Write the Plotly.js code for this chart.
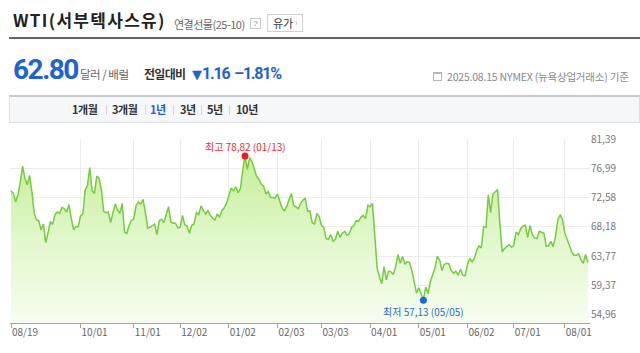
<!DOCTYPE html>
<html><head><meta charset="utf-8">
<script src="https://cdn.plot.ly/plotly-3.0.1.min.js"></script>
<style>
body{margin:0;width:640px;height:353px;overflow:hidden;background:#fff;font-family:"Noto Sans CJK KR","Noto Sans",sans-serif;position:relative}
.abs{position:absolute;white-space:nowrap}
#chart{position:absolute;left:0;top:123px;width:640px;height:230px}
.tab{position:absolute;top:0;line-height:25px;font-size:11px;font-weight:700;color:#333;letter-spacing:-0.4px}
.sep{position:absolute;top:8px;width:1px;height:10px;background:#d4d6da}
</style></head><body>
<div class="abs" style="left:13px;top:8px;font-size:17px;font-weight:700;color:#222;line-height:24px;letter-spacing:1.3px">WTI(서부텍사스유)</div>
<div class="abs" style="left:174px;top:17px;font-size:11px;color:#666;line-height:14px;letter-spacing:-0.5px">연결선물(25-10)</div>
<div class="abs" style="left:250px;top:18px;width:9px;height:9px;border:1px solid #c6c6c6;font-size:8px;line-height:9px;text-align:center;color:#888;font-family:'Liberation Sans'">?</div>
<div class="abs" style="left:267px;top:14px;width:34px;height:16px;border:1px solid #cfcfcf;font-size:11px;line-height:16px;color:#333"><span style="position:absolute;left:5px">유가</span><span style="position:absolute;left:27px;color:#aaa;font-size:9px">›</span></div>
<div class="abs" style="left:9px;top:37px;width:631px;height:2px;background:#5f636a"></div>

<div class="abs" style="left:13px;top:55px;font-family:Roboto,'Liberation Sans';font-size:28px;font-weight:700;color:#1e63d4;line-height:30px;letter-spacing:-1.5px">62.80</div>
<div class="abs" style="left:80px;top:66px;font-size:11.5px;color:#666;line-height:16px;letter-spacing:-0.5px">달러 / 배럴</div>
<div class="abs" style="left:144px;top:66px;font-size:12px;font-weight:700;color:#333;line-height:16px;letter-spacing:-0.7px">전일대비</div>
<div class="abs" style="left:192px;top:64px;font-family:Roboto,'Liberation Sans';font-size:16px;font-weight:700;color:#1e63d4;line-height:20px;letter-spacing:-1.2px"><span style="font-size:13px;font-family:'DejaVu Sans';letter-spacing:0">▼</span>1.16</div>
<div class="abs" style="left:234px;top:64px;font-family:Roboto,'Liberation Sans';font-size:16px;font-weight:700;color:#1e63d4;line-height:20px;letter-spacing:-1.2px">–1.81%</div>
<div class="abs" style="left:433px;top:72px;width:9px;height:9px;border:1px solid #b5b5b5;border-top-width:2px;box-sizing:border-box"></div>
<div class="abs" style="left:447px;top:70px;font-size:10.5px;color:#888;line-height:14px;letter-spacing:-0.2px">2025.08.15 NYMEX (뉴욕상업거래소) 기준</div>

<div class="abs" style="left:9px;top:95px;width:629px;height:25px;background:#f6f7f9;border:1px solid #dcdee2;border-top:2px solid #c6c9ce">
  <span class="tab" style="left:62px">1개월</span><span class="sep" style="left:96px"></span>
  <span class="tab" style="left:102px">3개월</span><span class="sep" style="left:135px"></span>
  <span class="tab" style="left:140px;color:#2a5bd7">1년</span><span class="sep" style="left:163px"></span>
  <span class="tab" style="left:170px">3년</span><span class="sep" style="left:191px"></span>
  <span class="tab" style="left:197px">5년</span><span class="sep" style="left:219px"></span>
  <span class="tab" style="left:226px">10년</span>
</div>

<div id="chart"></div>
<script>
// WTI daily closes (trading days), 2024-08-19 .. 2025-08-15
const aug2024 = [73.6, 73.2, 71.9, 73.0, 74.8, 77.3, 75.5, 74.5, 75.9, 73.5];
const sep2024 = [70.3, 69.2, 69.1, 67.7, 68.6, 65.8, 67.3, 68.9, 68.6, 70.0, 70.4, 70.2, 71.1, 70.9, 70.4, 71.5, 69.5, 67.7, 68.2, 68.2];
const oct2024 = [69.8, 70.1, 73.7, 74.4, 77.1, 73.6, 73.2, 75.8, 75.5, 73.8, 70.5, 70.3, 70.4, 68.8, 70.3, 71.6, 70.7, 70.2, 71.7, 67.4, 67.2, 68.4, 69.1];
const nov2024 = [69.4, 71.4, 71.9, 71.6, 72.3, 70.3, 68.0, 68.1, 68.4, 68.6, 67.0, 69.1, 69.3, 68.8, 70.0, 71.2, 68.9, 68.7, 68.7, 68.0];
const dec2024 = [68.1, 69.9, 68.5, 68.3, 67.2, 68.4, 68.6, 70.3, 70.0, 71.3, 70.7, 70.1, 70.6, 69.9, 69.5, 69.2, 70.1, 69.6, 70.6, 71.0, 71.7];
const jan2025 = [73.0, 74.0, 73.6, 74.2, 73.3, 73.9, 76.6, 78.82, 76.8, 78.6, 78.0, 77.0, 75.8, 75.3, 74.6, 74.3, 73.1, 73.5, 72.6, 72.6, 72.5];
const feb2025 = [73.1, 72.2, 71.0, 70.6, 71.2, 72.3, 73.2, 71.4, 71.2, 70.9, 71.7, 72.2, 72.5, 70.5, 70.6, 68.8, 68.6, 70.2, 69.7];
const mar2025 = [68.4, 68.1, 66.4, 66.3, 67.0, 66.0, 66.3, 67.5, 66.6, 67.2, 67.5, 66.9, 67.1, 68.1, 68.3, 69.1, 69.0, 69.6, 69.9, 69.4, 71.4];
const apr2025 = [71.2, 71.7, 67.0, 62.0, 60.7, 59.6, 62.2, 60.2, 61.5, 61.4, 61.0, 62.2, 64.0, 62.7, 63.7, 62.6, 62.9, 62.8, 61.6, 59.9, 58.2];
const may2025 = [59.0, 58.0, 57.13, 59.1, 58.1, 59.9, 61.0, 62.0, 63.7, 63.2, 61.6, 62.5, 62.7, 62.6, 61.6, 61.2, 61.5, 60.9, 61.8, 60.9, 60.8];
const jun2025 = [62.5, 63.4, 62.9, 63.4, 64.6, 65.3, 65.0, 68.2, 68.1, 73.0, 70.3, 73.1, 73.5, 73.8, 68.7, 64.4, 64.9, 65.2, 65.5, 65.1];
const jul2025 = [65.4, 67.4, 67.0, 67.9, 68.3, 68.4, 66.6, 68.4, 67.0, 66.5, 66.4, 67.5, 67.3, 67.2, 65.3, 65.3, 66.0, 65.2, 66.7, 69.2, 70.0, 69.3];
const aug2025 = [67.3, 66.3, 65.2, 64.4, 63.9, 63.9, 64.1, 63.2, 62.7, 64.0, 62.8];

// x-axis labels and the trading-day index at which each labelled date falls
const tickLabels = ['08/19', '10/01', '11/01', '12/02', '01/02', '02/03', '03/03', '04/01', '05/01', '06/02', '07/01', '08/01'];
const tickIndex  = [0, 30, 53, 73, 94, 115, 134, 155, 176, 197, 217, 239];
// y-axis ticks
const yTicks = [54.96, 59.37, 63.77, 68.18, 72.58, 76.99, 81.39];
const highDate = '01/13';
const lowDate = '05/05';

const values = [].concat(aug2024, sep2024, oct2024, nov2024, dec2024, jan2025, feb2025, mar2025, apr2025, may2025, jun2025, jul2025, aug2025);
const xs = values.map((v, i) => i);
const hiVal = Math.max(...values), loVal = Math.min(...values);
const hiIdx = values.indexOf(hiVal), loIdx = values.indexOf(loVal);
const fmt = v => v.toFixed(2).replace('.', ',');

const traces = [
  {x: xs, y: values, type: 'scatter', mode: 'lines', line: {color: '#74cc3e', width: 1.5, shape: 'linear'},
   fill: 'tozeroy',
   fillgradient: {type: 'vertical', start: 53.7, stop: 79.5,
     colorscale: [[0, 'rgba(246,253,240,1)'], [0.5, 'rgba(224,247,202,1)'], [1, 'rgba(196,238,150,1)']]},
   hoverinfo: 'skip'},
  {x: [hiIdx], y: [hiVal], type: 'scatter', mode: 'markers', marker: {color: '#f21a22', size: 7}},
  {x: [loIdx], y: [loVal], type: 'scatter', mode: 'markers', marker: {color: '#1d68d6', size: 7}}
];

const layout = {
  width: 640, height: 230,
  margin: {l: 10, r: 50, t: 16, b: 30, pad: 0},
  paper_bgcolor: 'rgba(0,0,0,0)', plot_bgcolor: '#ffffff',
  showlegend: false,
  font: {family: 'Noto Sans CJK KR, Noto Sans, sans-serif', size: 10, color: '#666'},
  xaxis: {range: [-0.43, 249.9], tickmode: 'array', tickvals: tickIndex, ticktext: tickLabels,
    showgrid: true, gridcolor: '#ececec', gridwidth: 1, showline: true, linecolor: '#a3a3a3', linewidth: 1,
    ticks: 'outside', ticklen: 4, tickcolor: '#a3a3a3', ticklabelposition: 'outside right',
    zeroline: false, fixedrange: true, tickfont: {size: 10, color: '#666'}},
  yaxis: {side: 'right', range: [53.70, 81.39], tickmode: 'array', tickvals: yTicks, ticktext: yTicks.map(fmt),
    showgrid: true, gridcolor: '#ececec', showline: false, zeroline: false, ticks: '',
    fixedrange: true, tickfont: {size: 10, color: '#777'}},
  annotations: [
    {x: hiIdx, y: hiVal, xref: 'x', yref: 'y', showarrow: false, yanchor: 'middle', yshift: 10,
     text: '최고 ' + fmt(hiVal) + ' (' + highDate + ')', font: {size: 10, color: '#ee2a30'}},
    {x: loIdx, y: loVal, xref: 'x', yref: 'y', showarrow: false, yanchor: 'middle', yshift: -11,
     text: '최저 ' + fmt(loVal) + ' (' + lowDate + ')', font: {size: 10, color: '#2a6cd0'}}
  ]
};
Plotly.newPlot('chart', traces, layout, {staticPlot: true, displayModeBar: false});
</script>
</body></html>
